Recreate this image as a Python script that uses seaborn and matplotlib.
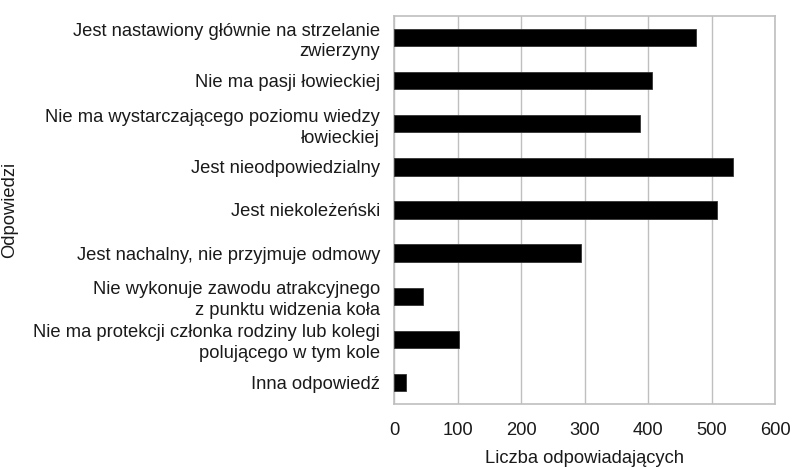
import pandas as pd
import matplotlib.pyplot as plt
import seaborn as sns

# Data
answers = [
    "Jest nastawiony głównie na strzelanie\nzwierzyny",
    "Nie ma pasji łowieckiej",
    "Nie ma wystarczającego poziomu wiedzy\nłowieckiej",
    "Jest nieodpowiedzialny",
    "Jest niekoleżeński",
    "Jest nachalny, nie przyjmuje odmowy",
    "Nie wykonuje zawodu atrakcyjnego\nz punktu widzenia koła",
    "Nie ma protekcji członka rodziny lub kolegi\npolującego w tym kole",
    "Inna odpowiedź",
]
counts = [475, 406, 388, 534, 509, 295, 45, 102, 19]
x_ticks = [0, 100, 200, 300, 400, 500, 600]

data = pd.DataFrame({"Odpowiedzi": answers, "Liczba": counts})

sns.set_style("white")
plt.rcParams['font.family'] = ['Liberation Sans', 'DejaVu Sans']

fs = 13.2
txt = "#1a1a1a"

fig = plt.figure(figsize=(7.93, 4.67), dpi=100)
ax = fig.add_axes([394 / 793, 1 - 404 / 467, 381 / 793, 388 / 467])

sns.barplot(data=data, y="Odpowiedzi", x="Liczba", orient="h",
            color="black", width=0.4, saturation=1, ax=ax, zorder=3,
            edgecolor="#333333", linewidth=0.6)

ax.set_xlim(0, 600)
ax.set_xticks(x_ticks)
ax.set_ylim(8.5, -0.5)
ax.grid(axis="x", color="#bfbfbf", linewidth=1, zorder=0)
for s in ax.spines.values():
    s.set_color("#bfbfbf")
    s.set_linewidth(1.2)

ax.tick_params(axis="both", length=0, labelsize=fs, colors=txt)
ax.tick_params(axis="x", pad=13)
ax.tick_params(axis="y", pad=10)
for lbl in ax.get_yticklabels():
    lbl.set_linespacing(1.3)

ax.set_xlabel("Liczba odpowiadających", fontsize=fs, color=txt, labelpad=8)
ax.set_ylabel("Odpowiedzi", fontsize=fs, color=txt)
ax.yaxis.set_label_coords(-(394 - 18) / 381, 0.5)

fig.savefig("out.png", dpi=100)
